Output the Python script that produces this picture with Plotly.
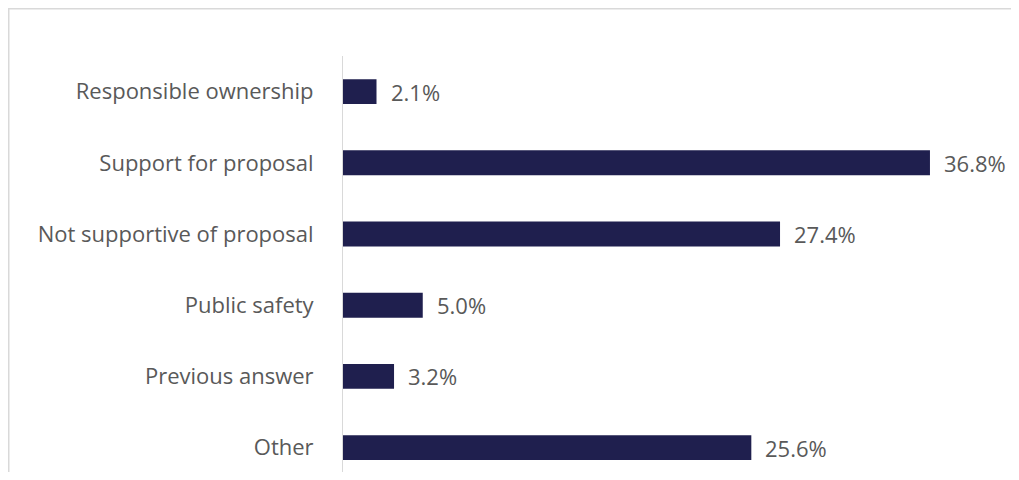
import plotly.graph_objects as go

categories = ["Responsible ownership", "Support for proposal", "Not supportive of proposal",
              "Public safety", "Previous answer", "Other"]
values = [2.1, 36.8, 27.4, 5.0, 3.2, 25.6]

BAR = "#1f1f4e"
TXT = "#595959"
FONT = "Open Sans, Noto Sans, sans-serif"
FS = 22

fig = go.Figure(go.Bar(
    y=categories, x=values, orientation="h",
    marker=dict(color=BAR, line=dict(width=0)),
    width=0.35, cliponaxis=False,
))

for c, v in zip(categories, values):
    fig.add_annotation(x=v, y=c, text=f"{v:.1f}%", showarrow=False,
                       xanchor="left", xshift=12, font=dict(size=FS, color=TXT, family=FONT))

# page body has an 8px margin, so the figure origin is at (8, 8) on screen
W, H = 1011, 464
ml, mr, mt, mb = 335, 11, 48, 0
pw, ph = W - ml - mr, H - mt - mb
step = 71.2  # pixels per category

def px2x(p):
    return (p - ml) / pw

def py2y(p):
    return 1 - (p - mt) / ph

border = dict(color="#d9d9d9", width=1.5)
# top and left edges of the frame (right and bottom edges fall outside the window)
fig.add_shape(type="line", xref="paper", yref="paper",
              x0=px2x(0), x1=px2x(1040), y0=py2y(0.75), y1=py2y(0.75), line=border, layer="below")
fig.add_shape(type="line", xref="paper", yref="paper",
              x0=px2x(0.75), x1=px2x(0.75), y0=py2y(0), y1=py2y(500), line=border, layer="below")

fig.update_layout(
    width=W, height=H,
    margin=dict(l=ml, r=mr, t=mt, b=mb),
    plot_bgcolor="white", paper_bgcolor="white",
    showlegend=False,
    font=dict(family=FONT, size=FS, color=TXT),
    xaxis=dict(range=[0, pw / 15.95], visible=False, showgrid=False, zeroline=False),
    yaxis=dict(categoryorder="array", categoryarray=categories,
               autorange=False, range=[-0.5 + ph / step, -0.5],
               showline=True, linecolor="#d9d9d9", linewidth=1,
               showgrid=False, zeroline=False, ticks="", ticklabelstandoff=24,
               tickfont=dict(size=FS, color=TXT, family=FONT)),
)

fig.write_html("out.html")
